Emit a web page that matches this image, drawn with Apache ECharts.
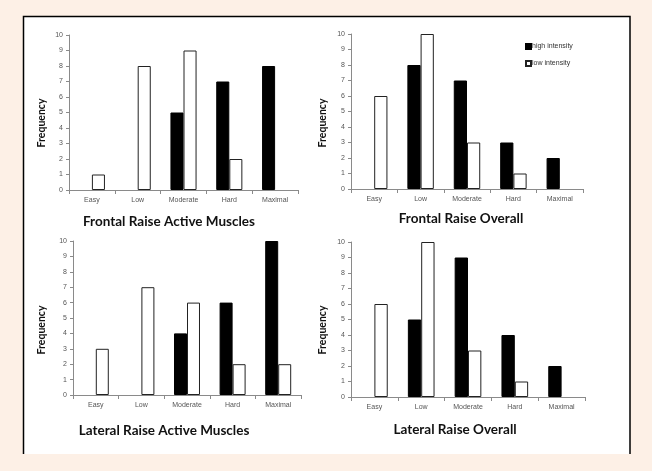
<!DOCTYPE html>
<html><head><meta charset="utf-8">
<script src="https://cdn.jsdelivr.net/npm/echarts@6/dist/echarts.min.js"></script>
<style>html,body{margin:0;padding:0;background:#fdf0e6;}#c{width:652px;height:471px;}</style>
</head><body><div id="c"></div>
<script>
const categories = ['Easy', 'Low', 'Moderate', 'Hard', 'Maximal'];
const seriesNames = ['high intensity', 'low intensity'];
const titles = ['Frontal Raise Active Muscles', 'Frontal Raise Overall', 'Lateral Raise Active Muscles', 'Lateral Raise Overall'];
const frontalActiveHigh = [0, 0, 5, 7, 8];
const frontalActiveLow = [1, 8, 9, 2, 0];
const frontalOverallHigh = [0, 8, 7, 3, 2];
const frontalOverallLow = [6, 10, 3, 1, 0];
const lateralActiveHigh = [0, 0, 4, 6, 10];
const lateralActiveLow = [3, 7, 6, 2, 2];
const lateralOverallHigh = [0, 5, 9, 4, 2];
const lateralOverallLow = [6, 10, 3, 1, 0];
const yTicks = [0, 10, 1]; // min, max, interval

const panels = [
  {high: frontalActiveHigh, low: frontalActiveLow},
  {high: frontalOverallHigh, low: frontalOverallLow},
  {high: lateralActiveHigh, low: lateralActiveLow},
  {high: lateralOverallHigh, low: lateralOverallLow}
];
const grids = [
  {left: 69, top: 35, width: 229, height: 155},
  {left: 351, top: 34, width: 232, height: 155},
  {left: 73, top: 241, width: 228, height: 154},
  {left: 351, top: 242, width: 234, height: 155}
];
const titlePos = [[164, 210], [456, 207], [159, 419], [450, 418]];
const freqPos = [[42, 123], [323, 123], [42, 330], [323, 330]];

const axisCol = '#8a8a8a';
const xAxes = [], yAxes = [], series = [], titleArr = [], graphics = [];

graphics.push({type: 'rect', shape: {x: 23, y: 16, width: 607, height: 438}, style: {fill: '#fff'}, z: -10});
graphics.push({type: 'polyline', shape: {points: [[23.5, 454], [23.5, 16.5], [630, 16.5], [630, 454]]}, style: {stroke: '#000', lineWidth: 1.5, fill: null}, z: -9});

function barData(arr) {
  return arr.map(v => v === 0 ? {value: v, itemStyle: {borderWidth: 0, opacity: 0}} : v);
}

panels.forEach((p, i) => {
  xAxes.push({
    type: 'category', gridIndex: i, data: categories,
    axisLine: {lineStyle: {color: axisCol, width: 1}},
    axisTick: {show: true, length: 4, lineStyle: {color: axisCol}},
    axisLabel: {fontSize: 7, color: '#555', margin: 7, fontFamily: 'Liberation Sans'}
  });
  yAxes.push({
    type: 'value', gridIndex: i, min: yTicks[0], max: yTicks[1], interval: yTicks[2],
    splitLine: {show: false},
    axisLine: {show: true, lineStyle: {color: axisCol, width: 1}},
    axisTick: {show: true, length: 3, lineStyle: {color: axisCol}},
    axisLabel: {fontSize: 7, color: '#555', margin: 6, fontFamily: 'Liberation Sans'}
  });
  series.push({
    name: seriesNames[0], type: 'bar', xAxisIndex: i, yAxisIndex: i, data: barData(p.high),
    barGap: '0%', barCategoryGap: '43%',
    itemStyle: {color: '#000', borderColor: '#000', borderWidth: 1}
  });
  series.push({
    name: seriesNames[1], type: 'bar', xAxisIndex: i, yAxisIndex: i, data: barData(p.low),
    barGap: '0%', barCategoryGap: '43%',
    itemStyle: {color: '#fff', borderColor: '#222', borderWidth: 1}
  });
  titleArr.push({
    text: titles[i], left: titlePos[i][0], top: titlePos[i][1], textAlign: 'center',
    textStyle: {fontSize: 13.5, fontWeight: 'bold', color: '#111', fontFamily: 'Lato'}
  });
  graphics.push({
    type: 'text', x: freqPos[i][0], y: freqPos[i][1], rotation: Math.PI / 2,
    style: {text: 'Frequency', font: 'bold 10.5px Lato', fill: '#111', align: 'center', verticalAlign: 'middle'}
  });
});

const chart = echarts.init(document.getElementById('c'));
chart.setOption({
  backgroundColor: '#fdf0e6',
  animation: false,
  title: titleArr,
  grid: grids,
  xAxis: xAxes,
  yAxis: yAxes,
  series: series,
  graphic: graphics,
  legend: {
    data: seriesNames, orient: 'vertical', left: 520, top: 38, itemGap: 10, padding: 5,
    itemWidth: 5, itemHeight: 5, icon: 'rect',
    textStyle: {fontSize: 7, color: '#333', fontFamily: 'Liberation Sans', padding: [0, 0, 0, -4]}
  }
});
</script></body></html>
